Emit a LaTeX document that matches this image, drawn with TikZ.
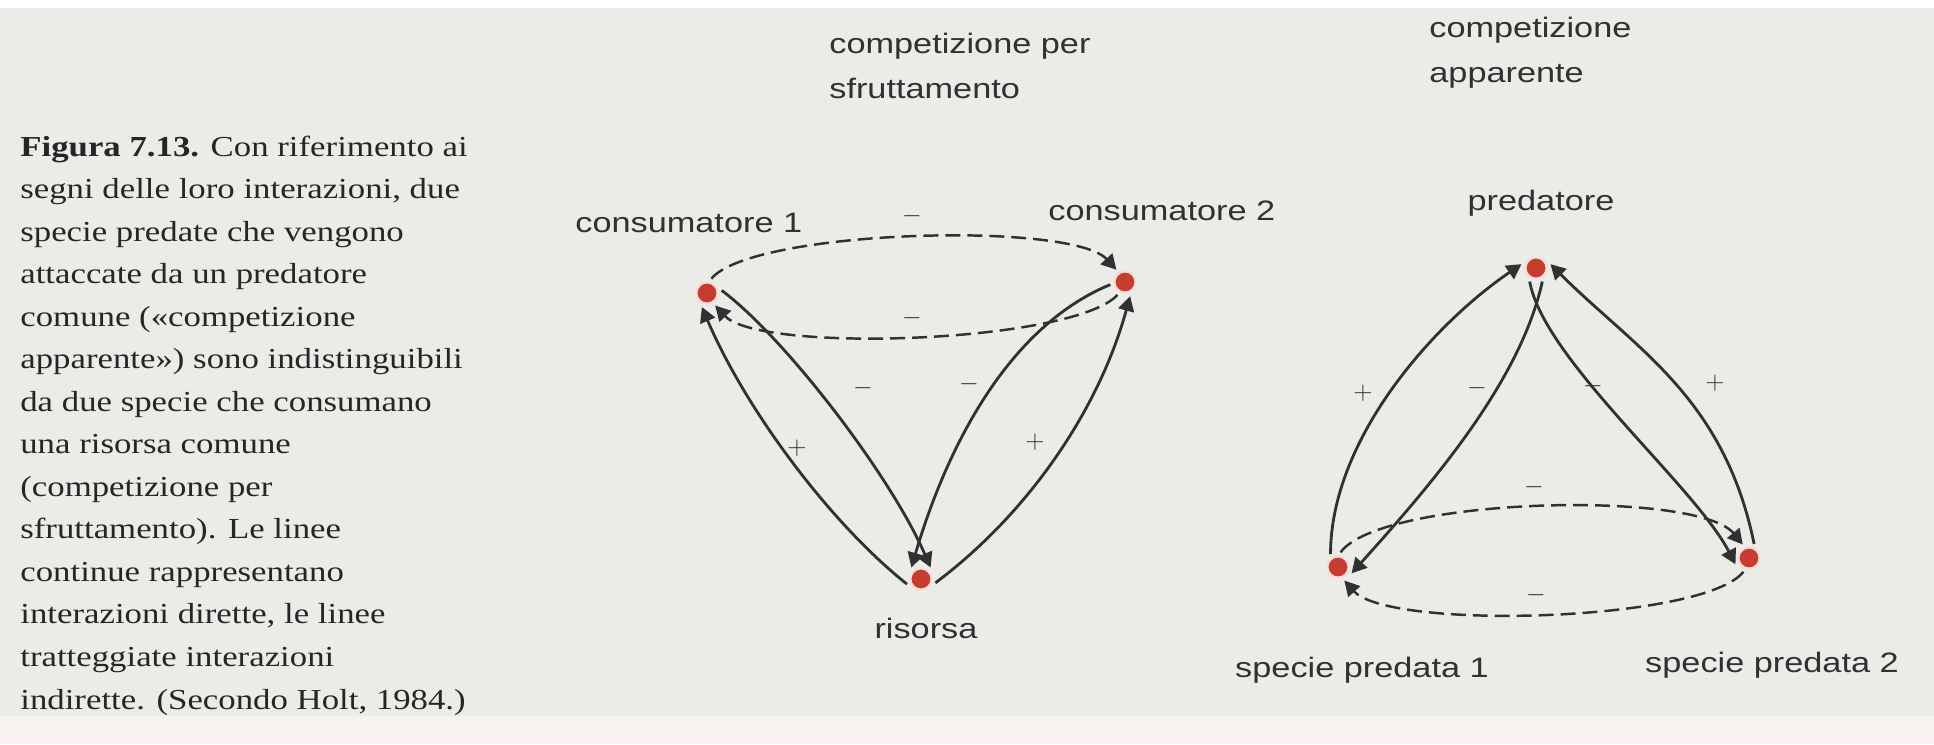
\documentclass[tikz,border=0pt]{standalone}
\usepackage{fontspec}
\setmainfont[FakeStretch=1.2]{Liberation Serif}
\newfontfamily\diagfont[FakeStretch=1.22]{Liberation Sans}
\usepackage{xcolor}
\usepackage{tikz}
\usetikzlibrary{arrows.meta, positioning}

\definecolor{pagegray}{RGB}{235,235,232}
\definecolor{pagelight}{RGB}{247,242,240}
\definecolor{inkgray}{RGB}{46,50,48}
\definecolor{captionink}{RGB}{38,38,38}
\definecolor{dotred}{RGB}{198,60,48}
\definecolor{dothalo}{RGB}{250,222,214}

\begin{document}
\begin{tikzpicture}[
        x=0.02cm, y=-0.02cm,
        species/.style={circle, fill=dotred, draw=dothalo, line width=1.2pt, minimum size=12pt, inner sep=0pt, outer sep=2.5pt},
        lbl/.style={font=\diagfont\fontsize{16}{25.6}\selectfont, text=inkgray, inner sep=0pt},
        signlbl/.style={font=\fontsize{14}{16}\selectfont, text=inkgray, inner sep=0pt},
        interaction/.style={-{Triangle[length=8.5pt, width=9pt]}, line width=1.6pt, draw=inkgray},
        indirect/.style={interaction, dash pattern=on 8.5pt off 4pt, line width=1.4pt}
    ]
        % Page
        \useasboundingbox (0,0) rectangle (1934,744);
        \fill[pagegray] (0,0) rectangle (1934,744);
        \fill[pagelight] (0,716) rectangle (1934,744);
        \fill[white] (0,0) rectangle (1934,8);

        % Caption (anchored on its last line)
        \node[anchor=base west, align=left, inner sep=0pt, text=captionink, font=\fontsize{16.5}{24.2}\selectfont] (caption) at (20,709) {%
            \textbf{Figura 7.13.} Con riferimento ai\\
            segni delle loro interazioni, due\\
            specie predate che vengono\\
            attaccate da un predatore\\
            comune («competizione\\
            apparente») sono indistinguibili\\
            da due specie che consumano\\
            una risorsa comune\\
            (competizione per\\
            sfruttamento). Le linee\\
            continue rappresentano\\
            interazioni dirette, le linee\\
            tratteggiate interazioni\\
            indirette. (Secondo Holt, 1984.)};

        % Nodes
        \node[species] (c1) at (707,293) {};
        \node[species] (c2) at (1125,282) {};
        \node[species] (r) at (921,579) {};
        \node[species] (p) at (1536,268) {};
        \node[species] (s1) at (1338,567) {};
        \node[species] (s2) at (1749,558) {};

        % Labels
        \node[lbl, anchor=base west, align=left] (exploit) at (829,98) {competizione per\\sfruttamento};
        \node[lbl, anchor=base west, align=left] (apparent) at (1429,82) {competizione\\apparente};
        \node[lbl, anchor=base west] (c1lbl) at (575,232) {consumatore 1};
        \node[lbl, anchor=base west] (c2lbl) at (1048,220) {consumatore 2};
        \node[lbl, anchor=base] (rlbl) at (926,638) {risorsa};
        \node[lbl, anchor=base] (plbl) at (1541,210) {predatore};
        \node[lbl, anchor=base] (s1lbl) at (1362,677) {specie predata 1};
        \node[lbl, anchor=base] (s2lbl) at (1772,672) {specie predata 2};

        % Arrows: competizione per sfruttamento
        \draw[interaction] (r.200) .. controls +(-78,-62) and +(43,101) .. (c1.250);
        \draw[interaction] (c1.10) .. controls +(64,48) and +(-40,-92) .. (r.50);
        \draw[interaction] (c2.190) .. controls +(-109,45) and +(31,-106) .. (r.130);
        \draw[interaction] (r.345) .. controls +(96,-72) and +(-30,110) .. (c2.290);
        \draw[indirect] (c1.73) .. controls +(40,-49) and +(-45,-49) .. (c2.125);
        \draw[indirect] (c2.240) .. controls +(-45,48) and +(45,48) .. (c1.303);

        % Arrows: competizione apparente
        \draw[interaction] (s1.120) .. controls +(0,-113) and +(-91,62) .. (p.165);
        \draw[interaction] (p.295) .. controls +(-22,100) and +(80,-89) .. (s1.335);
        \draw[interaction] (p.245) .. controls +(14,78) and +(-41,-79) .. (s2.205);
        \draw[interaction] (s2.70) .. controls +(-30,-147) and +(84,84) .. (p.15);
        \draw[indirect] (s1.80) .. controls +(40,-55) and +(-45,-55) .. (s2.115);
        \draw[indirect] (s2.248) .. controls +(-40,50) and +(45,50) .. (s1.295);

        % Signs
        \node[signlbl] (sgnA) at (797,448) {$+$};
        \node[signlbl] (sgnB) at (1035,442) {$+$};
        \node[signlbl] (sgnC) at (863,388) {$-$};
        \node[signlbl] (sgnD) at (969,384) {$-$};
        \node[signlbl] (sgnE) at (912,216) {$-$};
        \node[signlbl] (sgnF) at (912,318) {$-$};
        \node[signlbl] (sgnG) at (1363,393) {$+$};
        \node[signlbl] (sgnH) at (1477,388) {$-$};
        \node[signlbl] (sgnI) at (1593,386) {$-$};
        \node[signlbl] (sgnJ) at (1715,383) {$+$};
        \node[signlbl] (sgnK) at (1534,487) {$-$};
        \node[signlbl] (sgnL) at (1536,595) {$-$};
    \end{tikzpicture}
\end{document}
